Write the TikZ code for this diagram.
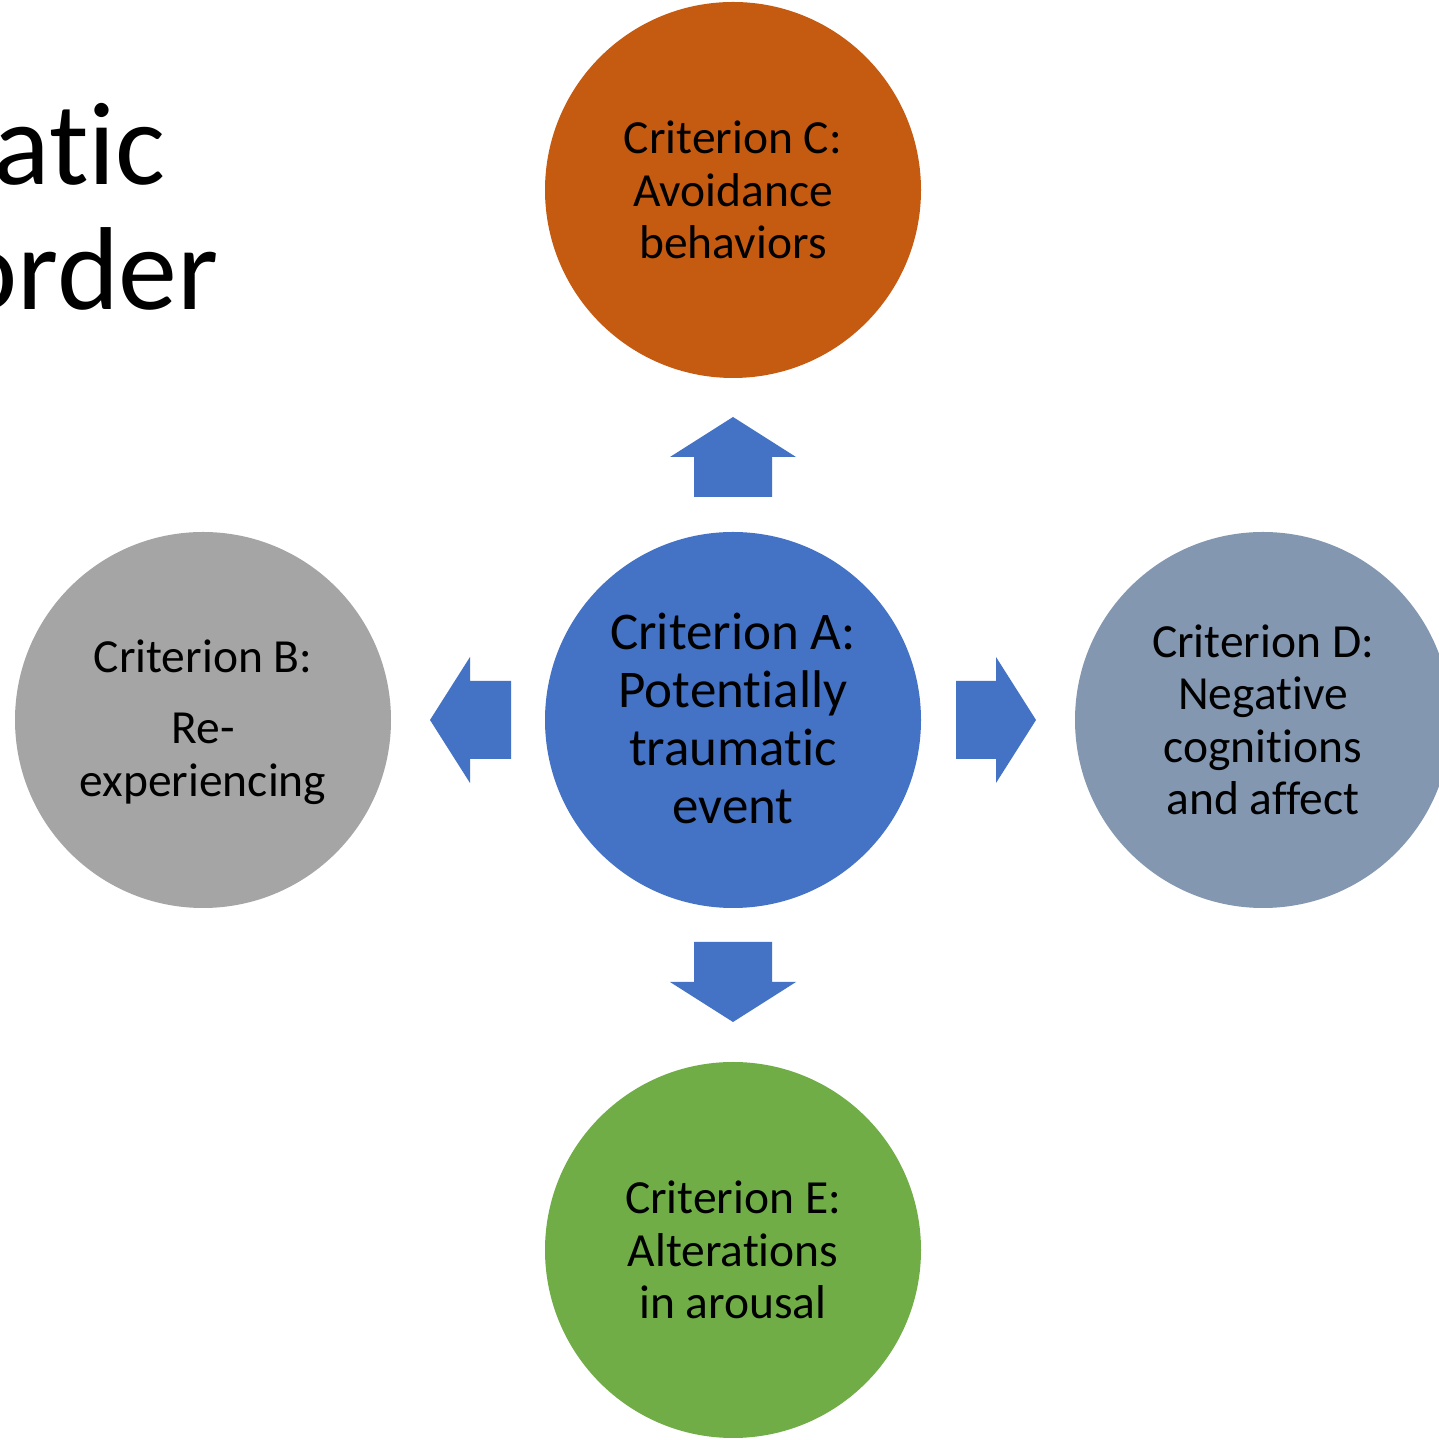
\documentclass[tikz,border=0pt]{standalone}
\usepackage{fontspec}
\setmainfont{Carlito}[RawFeature=-liga,RawFeature=-clig,RawFeature=-dlig,RawFeature=-calt,RawFeature=-rlig]
\definecolor{cA}{HTML}{4472C4}
\definecolor{cB}{HTML}{A5A5A5}
\definecolor{cC}{HTML}{C55A11}
\definecolor{cD}{HTML}{8497B0}
\definecolor{cE}{HTML}{70AD47}
\begin{document}
\begin{tikzpicture}[x=1pt,y=1pt,
  crit/.style={circle,minimum size=376pt,inner sep=0pt,draw=none},
  lbl/.style={align=center,text=black,font=\fontsize{47.5}{52.5}\selectfont},
  blockarrow/.style={fill=cA,draw=none}]
\clip (0,0) rectangle (1439,1440);
\fill[white] (0,0) rectangle (1439,1440);
% title fragments
\node[anchor=base east,inner sep=0pt,font=\fontsize{118}{125}\selectfont] (t1) at (166,1255) {atic};
\node[anchor=base east,inner sep=0pt,font=\fontsize{118}{125}\selectfont] (t2) at (219,1130) {order};
% circles
\node[crit,fill=cC] (C) at (733,1250) {};
\node[crit,fill=cA] (A) at (733,720) {};
\node[crit,fill=cB] (B) at (203,720) {};
\node[crit,fill=cD] (D) at (1263,720) {};
\node[crit,fill=cE] (E) at (733,190) {};
\node[lbl] (Ct) at (C.center) {Criterion C:\\Avoidance\\behaviors};
\node[lbl,font=\fontsize{53}{58}\selectfont] (At) at ([yshift=2pt]A.center) {Criterion A:\\Potentially\\traumatic\\event};
\node[lbl] (Bt) at ([yshift=-2pt]B.center) {Criterion B:\\[19pt]Re-\\experiencing};
\node[lbl] (Dt) at (D.center) {Criterion D:\\Negative\\cognitions\\and affect};
\node[lbl] (Et) at (E.center) {Criterion E:\\Alterations\\in arousal};
% block arrows
\fill[blockarrow] (694,943) -- (694,983) -- (670,983) -- (733,1023) -- (796,983) -- (772,983) -- (772,943) -- cycle;
\fill[blockarrow] (694,498) -- (694,458) -- (670,458) -- (733,418) -- (796,458) -- (772,458) -- (772,498) -- cycle;
\fill[blockarrow] (511,681) -- (470,681) -- (470,657) -- (430,720) -- (470,783) -- (470,759) -- (511,759) -- cycle;
\fill[blockarrow] (956,681) -- (996,681) -- (996,657) -- (1036,720) -- (996,783) -- (996,759) -- (956,759) -- cycle;
\end{tikzpicture}
\end{document}
